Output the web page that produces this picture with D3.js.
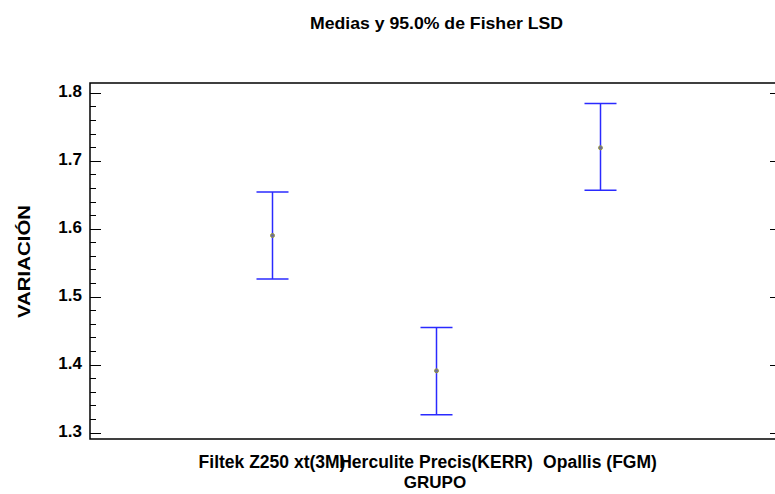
<!DOCTYPE html>
<html>
<head>
<meta charset="utf-8">
<script src="https://cdn.jsdelivr.net/npm/d3@7"></script>
<style>
body { margin: 0; background: #fff; }
text { font-family: "Liberation Sans", Arial, sans-serif; font-weight: bold; }
</style>
</head>
<body>
<div id="chart"></div>
<script>
// データ
const GROUPS = ['Filtek Z250 xt(3M)', 'Herculite Precis(KERR)', 'Opallis (FGM)'];
const MEANS = [1.590, 1.391, 1.719];
const LOWER = [1.526, 1.3265, 1.6565];
const UPPER = [1.654, 1.4546, 1.784];
const Y_TICKS = [1.3, 1.4, 1.5, 1.6, 1.7, 1.8];

// SVG全体
const SVG_WIDTH = 775;
const SVG_HEIGHT = 494;
const PLOT = {left: 90, right: 782, top: 83, bottom: 439};
const FONT_SIZE = 17;

const svg = d3.select('#chart')
    .append('svg')
    .attr('width', SVG_WIDTH)
    .attr('height', SVG_HEIGHT)
;

const x = d3.scaleLinear()
    .domain([-1.11, 3.11])
    .range([PLOT.left, PLOT.right]);
const y = d3.scaleLinear()
    .domain([1.2907, 1.8143])
    .range([PLOT.bottom, PLOT.top]);

// 枠
svg.append('rect')
    .attr('x', PLOT.left)
    .attr('y', PLOT.top)
    .attr('width', PLOT.right - PLOT.left)
    .attr('height', PLOT.bottom - PLOT.top)
    .attr('fill', 'none')
    .attr('stroke', '#000')
    .attr('stroke-width', 1.5)
;

// 左の軸 (小目盛り 0.02ごと)
const minor = d3.range(1.3, 1.8001, 0.02);
const axis_g = svg.append('g').attr('stroke', '#000').attr('stroke-width', 1);
axis_g.selectAll('line.minor')
    .data(minor)
    .enter()
    .append('line')
    .attr('x1', PLOT.left)
    .attr('x2', d => (Y_TICKS.some(t => Math.abs(t - d) < 1e-6)) ? PLOT.left + 11 : PLOT.left + 6)
    .attr('y1', d => Math.round(y(d)) + 0.5)
    .attr('y2', d => Math.round(y(d)) + 0.5)
;
// 右の軸
axis_g.selectAll('line.right')
    .data(Y_TICKS)
    .enter()
    .append('line')
    .attr('x1', 770)
    .attr('x2', 776)
    .attr('y1', d => Math.round(y(d)) + 0.5)
    .attr('y2', d => Math.round(y(d)) + 0.5)
;

svg.append('g')
    .selectAll('text')
    .data(Y_TICKS)
    .enter()
    .append('text')
    .attr('x', 82)
    .attr('y', d => y(d) + 4.5)
    .attr('text-anchor', 'end')
    .attr('font-size', FONT_SIZE)
    .text(d => d.toFixed(1))
;

// エラーバー
const bars = svg.append('g')
    .attr('stroke', '#2a2aff')
    .attr('stroke-width', 1.5)
;
GROUPS.forEach((g, i) => {
    const cx = Math.round(x(i)) + 0.5;
    bars.append('line')
        .attr('x1', cx).attr('x2', cx)
        .attr('y1', y(UPPER[i])).attr('y2', y(LOWER[i]));
    bars.append('line')
        .attr('x1', cx - 16).attr('x2', cx + 16)
        .attr('y1', y(UPPER[i])).attr('y2', y(UPPER[i]));
    bars.append('line')
        .attr('x1', cx - 16).attr('x2', cx + 16)
        .attr('y1', y(LOWER[i])).attr('y2', y(LOWER[i]));
    svg.append('circle')
        .attr('cx', cx)
        .attr('cy', y(MEANS[i]))
        .attr('r', 2)
        .attr('fill', '#6a6aa0')
        .attr('stroke', '#9a9a40')
        .attr('stroke-width', 1);
});

// カテゴリ
svg.append('g')
    .selectAll('text')
    .data(GROUPS)
    .enter()
    .append('text')
    .attr('x', (d, i) => x(i))
    .attr('y', 468)
    .attr('text-anchor', 'middle')
    .attr('font-size', 17.5)
    .text(d => d)
;

// タイトル
svg.append('text')
    .attr('x', 436.5).attr('y', 29)
    .attr('text-anchor', 'middle')
    .attr('font-size', FONT_SIZE)
    .attr('textLength', 253)
    .attr('lengthAdjust', 'spacingAndGlyphs')
    .text('Medias y 95.0% de Fisher LSD');
svg.append('text')
    .attr('x', 435).attr('y', 488)
    .attr('text-anchor', 'middle')
    .attr('font-size', FONT_SIZE)
    .text('GRUPO');
svg.append('text')
    .attr('transform', 'translate(30,261.5) rotate(-90)')
    .attr('text-anchor', 'middle')
    .attr('font-size', FONT_SIZE)
    .attr('textLength', 113)
    .attr('lengthAdjust', 'spacingAndGlyphs')
    .text('VARIACIÓN');
</script>
</body>
</html>
